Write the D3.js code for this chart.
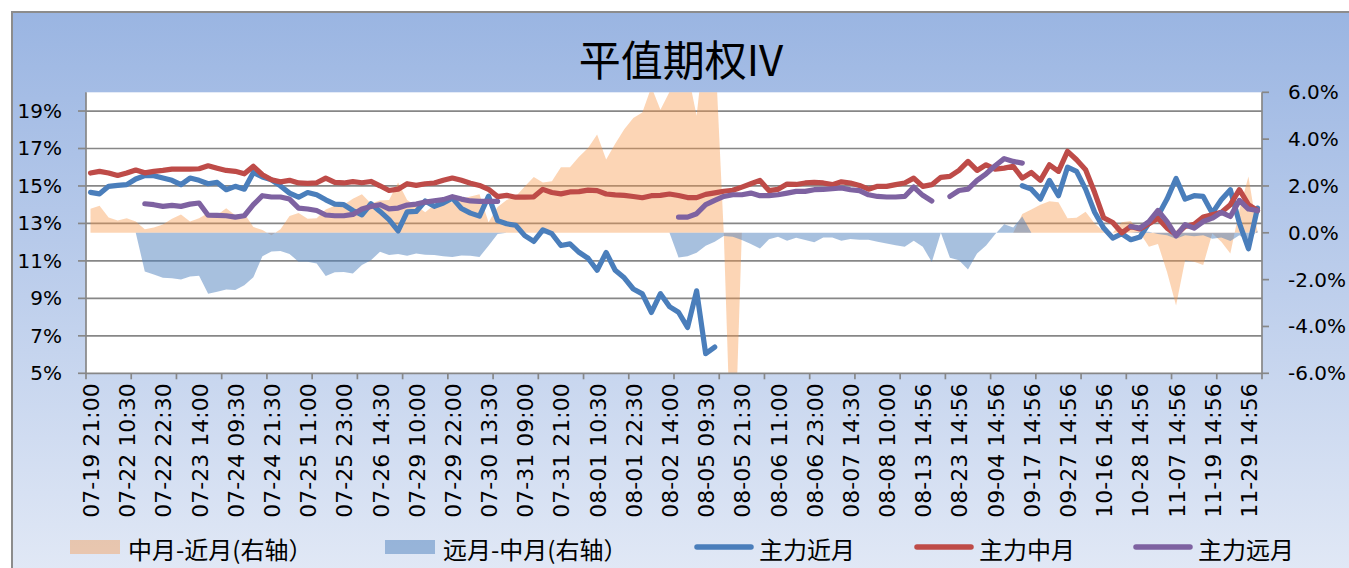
<!DOCTYPE html>
<html>
<head>
<meta charset="utf-8">
<script src="https://cdn.jsdelivr.net/npm/d3@7"></script>
<style>
  body { margin: 0; background: #fff; }
  svg { display: block; }
</style>
</head>
<body>
<div id="chart"></div>
<script>
// tick labels on the category axis (one every 4 points)
var tickLabels = ["07-19 21:00","07-22 10:30","07-22 22:30","07-23 14:00","07-24 09:30","07-24 21:30",
  "07-25 11:00","07-25 23:00","07-26 14:30","07-29 10:00","07-29 22:00","07-30 13:30","07-31 09:00",
  "07-31 21:00","08-01 10:30","08-01 22:30","08-02 14:00","08-05 09:30","08-05 21:30","08-06 11:00",
  "08-06 23:00","08-07 14:30","08-08 10:00","08-13 14:56","08-23 14:56","09-04 14:56","09-17 14:56",
  "09-27 14:56","10-16 14:56","10-28 14:56","11-07 14:56","11-19 14:56","11-29 14:56"];

// 主力近月 (%)
var nearIV = [14.66,14.58,14.98,15.03,15.07,15.37,15.55,15.55,15.42,15.30,
  15.07,15.42,15.30,15.12,15.19,14.80,14.98,14.83,15.72,15.48,
  15.33,15.00,14.62,14.40,14.65,14.53,14.26,14.03,14.00,13.69,
  13.46,14.05,13.64,13.20,12.60,13.62,13.64,14.20,13.91,14.09,
  14.35,13.80,13.55,13.39,14.46,13.15,12.98,12.90,12.35,12.04,
  12.66,12.45,11.82,11.91,11.46,11.14,10.50,11.45,10.50,10.10,
  9.50,9.24,8.25,9.25,8.56,8.26,7.45,9.40,6.05,6.40,
  null,null,null,null,null,null,null,null,null,null,
  null,null,null,null,null,null,null,null,null,null,
  null,null,null,null,null,null,null,null,null,null,
  null,null,null,15.01,14.83,14.30,15.30,14.48,16.00,15.78,
  14.83,13.60,12.75,12.22,12.45,12.13,12.27,13.02,13.41,14.30,
  15.40,14.30,14.48,14.44,13.55,14.26,14.80,13.02,11.65,13.82];

// 主力中月 (%)
var midIV = [15.69,15.78,15.69,15.56,15.69,15.85,15.70,15.78,15.83,15.90,
  15.90,15.90,15.92,16.08,15.95,15.83,15.78,15.65,16.05,15.60,
  15.33,15.22,15.30,15.16,15.14,15.17,15.42,15.19,15.16,15.23,
  15.17,15.24,15.01,14.76,14.83,15.12,15.03,15.12,15.16,15.30,
  15.42,15.30,15.15,15.03,14.82,14.43,14.50,14.40,14.40,14.42,
  14.82,14.65,14.58,14.68,14.70,14.78,14.75,14.57,14.52,14.50,
  14.44,14.37,14.48,14.50,14.57,14.49,14.38,14.38,14.55,14.63,
  14.72,14.77,14.94,15.12,15.30,14.75,14.82,15.10,15.08,15.16,
  15.19,15.16,15.07,15.22,15.16,15.03,14.83,14.98,14.98,15.07,
  15.16,15.42,14.98,15.07,15.46,15.51,15.83,16.31,15.83,16.13,
  15.90,15.95,16.05,15.42,15.72,15.30,16.13,15.78,16.85,16.40,
  15.87,14.65,13.30,13.05,12.50,12.84,12.70,12.98,13.28,12.75,
  12.40,12.84,12.96,13.34,13.46,13.59,14.00,14.80,14.00,13.69];

// 主力远月 (%)
var farIV = [null,null,null,null,null,null,14.05,14.00,13.91,13.96,
  13.91,14.03,14.09,13.44,13.43,13.41,13.34,13.41,14.00,14.48,
  14.41,14.41,14.30,13.82,13.77,13.69,13.45,13.41,13.41,13.48,
  13.77,13.91,14.00,13.78,13.82,13.98,14.03,14.14,14.21,14.27,
  14.43,14.30,14.20,14.18,14.18,14.18,null,null,null,null,
  null,null,null,null,null,null,null,null,null,null,
  null,null,null,null,null,13.34,13.34,13.52,14.00,14.23,
  14.44,14.53,14.53,14.62,14.48,14.48,14.53,14.62,14.71,14.71,
  14.80,14.82,14.85,14.89,14.80,14.75,14.53,14.44,14.41,14.41,
  14.44,14.94,14.50,14.20,null,14.44,14.76,14.83,15.30,15.65,
  16.08,16.46,16.31,16.22,null,null,null,null,null,null,
  null,null,null,null,null,12.84,12.75,13.10,13.69,13.10,
  12.34,12.93,12.75,13.10,13.28,13.59,13.37,14.23,13.77,13.69];

// 中月-近月 (右轴, %)
var spreadMidNear = [1.03,1.15,0.65,0.53,0.62,0.48,0.15,0.23,0.35,0.60,
  0.78,0.48,0.62,0.85,0.76,1.05,0.75,0.82,0.25,0.12,
  -0.10,0.15,0.72,0.85,0.60,0.62,1.00,1.15,1.20,1.45,
  1.65,1.25,1.38,1.40,2.15,1.40,1.15,0.88,1.20,1.28,
  1.30,1.45,1.55,1.65,0.45,1.10,1.40,1.55,1.98,2.38,
  2.15,2.20,2.80,2.80,3.25,3.62,4.20,3.13,3.80,4.42,
  4.90,5.14,6.23,5.26,6.01,6.22,6.90,5.00,8.50,8.22,
  0,-12,0,0,0,0,0,0,0,0,
  0,0,0,0,0,0,0,0,0,0,
  0,0,0,0,0,0,0,0,0,0,
  0,0,0,0.80,1.00,1.20,1.35,1.30,0.62,0.64,
  0.90,0.40,0.06,0,0.45,0.50,0,-0.60,-0.48,-1.67,
  -3.10,-1.17,-1.24,-1.38,-0.03,-0.38,-0.88,0.97,2.40,0.04];

// 远月-中月 (右轴, %)
var spreadFarMid = [0,0,0,0,0,0,-1.65,-1.78,-1.92,-1.94,
  -1.99,-1.87,-1.83,-2.60,-2.52,-2.42,-2.44,-2.24,-1.90,-1.00,
  -0.80,-0.78,-0.91,-1.24,-1.24,-1.31,-1.85,-1.68,-1.67,-1.74,
  -1.38,-1.17,-0.81,-0.95,-0.91,-0.98,-0.88,-0.94,-0.95,-1.00,
  -1.03,-0.97,-0.98,-1.03,-0.55,-0.05,0,0,0,0,
  0,0,0,0,0,0,0,0,0,0,
  0,0,0,0,0,-1.05,-1.00,-0.85,-0.55,-0.38,
  -0.14,-0.17,-0.31,-0.48,-0.67,-0.28,-0.17,-0.34,-0.21,-0.31,
  -0.40,-0.20,-0.20,-0.34,-0.26,-0.30,-0.30,-0.38,-0.46,-0.53,
  -0.60,-0.34,-0.60,-1.25,0,-1.07,-1.17,-1.57,-0.88,-0.54,
  -0.06,0.37,0.23,0.70,0,0,0,0,0,0,
  0,0,0,0,0,0,0.05,0.05,-0.05,-0.10,
  -0.25,-0.10,-0.15,-0.10,-0.25,-0.20,-0.35,-0.10,-0.35,0.10];

var leftTicks = [5, 7, 9, 11, 13, 15, 17, 19];
var rightTicks = [-6, -4, -2, 0, 2, 4, 6];

var svgWidth = 1349;
var svgHeight = 568;
var margin = { top: 92.3, left: 86 };
var width = 1176;
var height = 281;

var numFont = "'DejaVu Sans', Verdana, sans-serif";
var cjkFont = "'Noto Sans CJK SC', 'Noto Sans', sans-serif";
var axisGray = "#878787";

var svg = d3.select("#chart")
  .append("svg")
  .attr("width", svgWidth)
  .attr("height", svgHeight);

var defs = svg.append("defs");
var grad = defs.append("linearGradient")
  .attr("id", "bg")
  .attr("x1", 0).attr("y1", 0).attr("x2", 0).attr("y2", 1);
grad.append("stop").attr("offset", "0%").attr("stop-color", "#9ab5e2");
grad.append("stop").attr("offset", "100%").attr("stop-color", "#e2e9f6");

defs.append("clipPath").attr("id", "plotClip")
  .append("rect").attr("x", 0).attr("y", 0).attr("width", width).attr("height", height);

// chart area background + border
svg.append("rect")
  .attr("x", 12).attr("y", 12)
  .attr("width", svgWidth).attr("height", svgHeight)
  .attr("fill", "url(#bg)")
  .attr("stroke", "#8c8c8c")
  .attr("stroke-width", 2);

// title
svg.append("text")
  .attr("x", 681).attr("y", 57)
  .attr("text-anchor", "middle")
  .attr("dominant-baseline", "central")
  .style("font-family", cjkFont)
  .style("font-size", "42px")
  .attr("fill", "#000")
  .text("平值期权IV");

var chartGroup = svg.append("g")
  .attr("transform", `translate(${margin.left}, ${margin.top})`);

chartGroup.append("rect")
  .attr("width", width).attr("height", height)
  .attr("fill", "#fff");

// scales
var xScale = d3.scaleBand()
  .domain(d3.range(midIV.length))
  .range([0, width]);
var cx = i => xScale(i) + xScale.bandwidth() / 2;

var yLeft = d3.scaleLinear().domain([5, 20]).range([height, 0]);
var yRight = d3.scaleLinear().domain([-6, 6]).range([height, 0]);

// gridlines
chartGroup.append("g")
  .selectAll("line")
  .data(leftTicks.filter(t => t > 5))
  .enter()
  .append("line")
  .attr("x1", 0).attr("x2", width)
  .attr("y1", d => yLeft(d)).attr("y2", d => yLeft(d))
  .attr("stroke", axisGray)
  .attr("stroke-width", 1.7);

var plot = chartGroup.append("g").attr("clip-path", "url(#plotClip)");

// spread areas on right axis
var spreadArea = d3.area()
  .x((d, i) => cx(i))
  .y0(yRight(0))
  .y1(d => yRight(d));

plot.append("path")
  .datum(spreadMidNear)
  .attr("d", spreadArea)
  .attr("fill", "#f79646")
  .attr("fill-opacity", 0.4);

plot.append("path")
  .datum(spreadFarMid)
  .attr("d", spreadArea)
  .attr("fill", "#4f81bd")
  .attr("fill-opacity", 0.5);

// IV lines on left axis
var ivLine = d3.line()
  .defined(d => d != null)
  .x((d, i) => cx(i))
  .y(d => yLeft(d));

var lineSeries = [
  { name: "主力近月", values: nearIV, color: "#4a7ebb" },
  { name: "主力中月", values: midIV, color: "#be4b48" },
  { name: "主力远月", values: farIV, color: "#7e62a1" }
];

lineSeries.forEach(s => {
  plot.append("path")
    .datum(s.values)
    .attr("d", ivLine)
    .attr("fill", "none")
    .attr("stroke", s.color)
    .attr("stroke-width", 5.2)
    .attr("stroke-linejoin", "round")
    .attr("stroke-linecap", "round");
});

// axis lines
chartGroup.append("line")
  .attr("x1", 0).attr("x2", 0).attr("y1", 0).attr("y2", height)
  .attr("stroke", axisGray).attr("stroke-width", 1.7);
chartGroup.append("line")
  .attr("x1", width).attr("x2", width).attr("y1", 0).attr("y2", height)
  .attr("stroke", axisGray).attr("stroke-width", 1.7);
chartGroup.append("line")
  .attr("x1", 0).attr("x2", width).attr("y1", height).attr("y2", height)
  .attr("stroke", axisGray).attr("stroke-width", 1.7);

// left axis
var leftAxis = chartGroup.append("g");
leftAxis.selectAll("line")
  .data(leftTicks).enter().append("line")
  .attr("x1", -8).attr("x2", 0)
  .attr("y1", d => yLeft(d)).attr("y2", d => yLeft(d))
  .attr("stroke", axisGray).attr("stroke-width", 1.7);
leftAxis.selectAll("text")
  .data(leftTicks).enter().append("text")
  .attr("x", -24).attr("y", d => yLeft(d))
  .attr("text-anchor", "end")
  .attr("dominant-baseline", "central")
  .style("font-family", numFont)
  .style("font-size", "20px")
  .attr("fill", "#000")
  .text(d => d + "%");

// right axis
var rightAxis = chartGroup.append("g");
rightAxis.selectAll("line")
  .data(rightTicks).enter().append("line")
  .attr("x1", width).attr("x2", width + 7)
  .attr("y1", d => yRight(d)).attr("y2", d => yRight(d))
  .attr("stroke", axisGray).attr("stroke-width", 1.7);
rightAxis.selectAll("text")
  .data(rightTicks).enter().append("text")
  .attr("x", width + 26).attr("y", d => yRight(d))
  .attr("dominant-baseline", "central")
  .style("font-family", numFont)
  .style("font-size", "20px")
  .attr("fill", "#000")
  .text(d => d.toFixed(1) + "%");

// category axis: tick marks every 5 points, labels every 4 points
var tickIdx = d3.range(0, midIV.length + 1, 5);
chartGroup.append("g")
  .selectAll("line")
  .data(tickIdx).enter().append("line")
  .attr("x1", d => d * xScale.bandwidth()).attr("x2", d => d * xScale.bandwidth())
  .attr("y1", height).attr("y2", height + 6)
  .attr("stroke", axisGray).attr("stroke-width", 1.7);

chartGroup.append("g")
  .selectAll("text")
  .data(tickLabels).enter().append("text")
  .attr("transform", (d, j) => `translate(${cx(j * 4) + 1}, ${height + 10}) rotate(-90)`)
  .attr("text-anchor", "end")
  .attr("dominant-baseline", "central")
  .style("font-family", numFont)
  .style("font-size", "22px")
  .attr("fill", "#000")
  .text(d => d);

// legend
var legend = svg.append("g").attr("transform", "translate(0, 547)");
var areaItems = [
  { name: "中月-近月(右轴）", color: "#f79646", op: 0.4, x: 70 },
  { name: "远月-中月(右轴）", color: "#4f81bd", op: 0.5, x: 385 }
];
areaItems.forEach(a => {
  legend.append("rect")
    .attr("x", a.x).attr("y", -7)
    .attr("width", 50).attr("height", 14)
    .attr("fill", a.color).attr("fill-opacity", a.op);
  legend.append("text")
    .attr("x", a.x + 58).attr("y", 1)
    .attr("dominant-baseline", "central")
    .style("font-family", cjkFont)
    .style("font-size", "24px")
    .attr("fill", "#000")
    .text(a.name);
});
var lineX = [697, 917, 1136];
lineSeries.forEach((s, k) => {
  legend.append("line")
    .attr("x1", lineX[k]).attr("x2", lineX[k] + 54)
    .attr("y1", 0).attr("y2", 0)
    .attr("stroke", s.color).attr("stroke-width", 5.5)
    .attr("stroke-linecap", "round");
  legend.append("text")
    .attr("x", lineX[k] + 62).attr("y", 1)
    .attr("dominant-baseline", "central")
    .style("font-family", cjkFont)
    .style("font-size", "24px")
    .attr("fill", "#000")
    .text(s.name);
});
</script>
</body>
</html>
